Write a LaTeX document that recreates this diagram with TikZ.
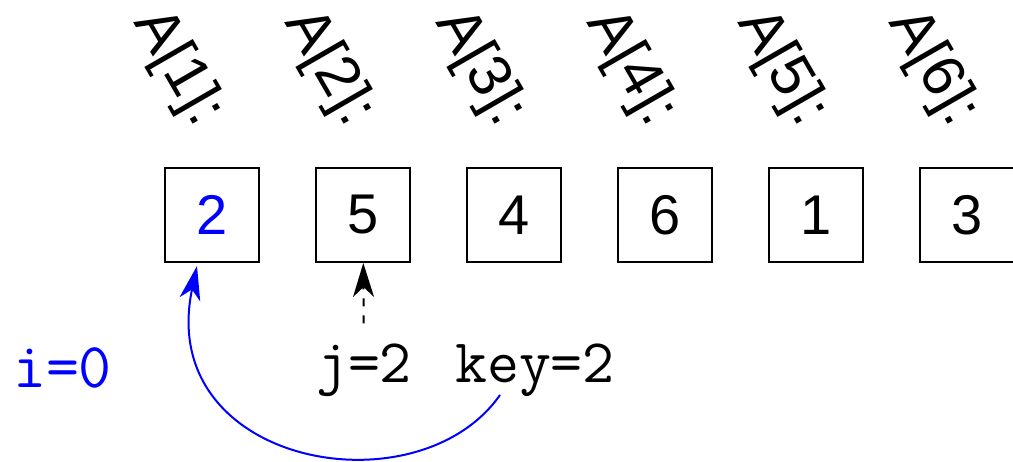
\documentclass[tikz,border=0pt]{standalone}
\usepackage{fontspec}
\newfontfamily\arialfont{Liberation Sans}
\usetikzlibrary{arrows.meta}
\begin{document}
\begin{tikzpicture}[x=0.5pt,y=0.5pt,
    cell/.style={draw,line width=1pt,minimum size=47pt,inner sep=0pt,
      font=\arialfont\fontsize{28}{28}\selectfont},
    idx/.style={rotate=-60,anchor=east,inner sep=0pt,
      font=\arialfont\fontsize{30}{30}\selectfont},
    var/.style={anchor=base,font=\ttfamily\fontsize{31}{31}\selectfont},
    tip/.style={-{Stealth[length=17pt,width=10.5pt,inset=5pt]}}]
  \useasboundingbox (0,0) rectangle (1013,461);
  \draw
    (212,246) node[cell,text=blue] (1){2}
    (363,246) node[cell] (2){5}
    (514,246) node[cell] (3){4}
    (665,246) node[cell] (4){6}
    (816,246) node[cell] (5){1}
    (967,246) node[cell] (6){3};
  \draw
    (209,339) node[idx] (a1){A[1]:}
    (360,339) node[idx] (a2){A[2]:}
    (511,339) node[idx] (a3){A[3]:}
    (662,339) node[idx] (a4){A[4]:}
    (813,339) node[idx] (a5){A[5]:}
    (964,339) node[idx] (a6){A[6]:};
  \node[var,anchor=base west,text=blue,font=\ttfamily\fontsize{32}{32}\selectfont]
    (i) at (6,73) {i=0};
  \node[var] (j) at (364,78) {j=2};
  \node[var] (key) at (535,78) {key=2};
  \begin{scope}[line width=1pt]
    \draw[tip,dash pattern=on 4pt off 4.5pt,shorten <=7pt] (j) to (2);
    \draw[tip,blue]
      ([shift={(-35,-12)}]key.base) to[out=-125,in=-102,
        out distance=72pt,in distance=102pt]
      ([shift={(-15,-3)}]1.south);
  \end{scope}
\end{tikzpicture}
\end{document}
